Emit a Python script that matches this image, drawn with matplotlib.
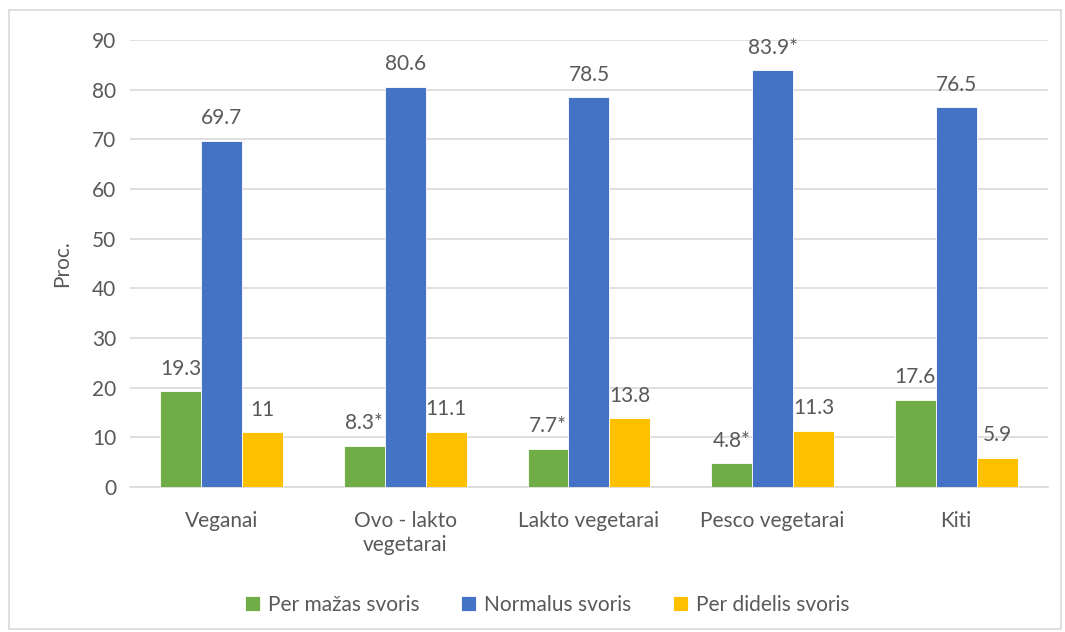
import matplotlib.pyplot as plt
from matplotlib.patches import Rectangle
import numpy as np

categories = ['Veganai', 'Ovo - lakto\nvegetarai', 'Lakto vegetarai', 'Pesco vegetarai', 'Kiti']
series_names = ['Per mažas svoris', 'Normalus svoris', 'Per didelis svoris']
under = [19.3, 8.3, 7.7, 4.8, 17.6]
normal = [69.7, 80.6, 78.5, 83.9, 76.5]
over = [11, 11.1, 13.8, 11.3, 5.9]
under_labels = ['19.3', '8.3*', '7.7*', '4.8*', '17.6']
normal_labels = ['69.7', '80.6', '78.5', '83.9*', '76.5']
over_labels = ['11', '11.1', '13.8', '11.3', '5.9']
yticks = [0, 10, 20, 30, 40, 50, 60, 70, 80, 90]

colors = ['#70AD47', '#4472C4', '#FFC000']
text_color = '#595959'
fs = 15

plt.rcParams['font.family'] = ['Lato', 'DejaVu Sans']

fig = plt.figure(figsize=(10.65, 6.32), dpi=100)
ax = fig.add_axes([0.122, 0.2294, 0.862, 0.7073])

x = np.arange(len(categories))
w = 0.223
data = [under, normal, over]
labels = [under_labels, normal_labels, over_labels]
for i, (vals, labs) in enumerate(zip(data, labels)):
    pos = x + (i - 1) * w
    ax.bar(pos, vals, width=w, color=colors[i], edgecolor='white', linewidth=0.6,
           label=series_names[i], zorder=3)
    for px, v, t in zip(pos, vals, labs):
        ax.annotate(t, (px, v), xytext=(0, 9), textcoords='offset points',
                    ha='center', va='bottom', fontsize=fs, color=text_color)

ax.set_xlim(-0.5, len(categories) - 0.5)
ax.set_ylim(0, 90)
ax.set_yticks(yticks)
ax.grid(axis='y', color='#D9D9D9', linewidth=1.2, zorder=0)
for s in ['top', 'right', 'left']:
    ax.spines[s].set_visible(False)
ax.spines['bottom'].set_color('#D9D9D9')
ax.spines['bottom'].set_linewidth(1.2)
ax.tick_params(axis='both', length=0, labelsize=fs, colors=text_color, pad=10)
ax.set_xticks(x)
ax.set_xticklabels(categories, linespacing=1.25)
ax.tick_params(axis='x', pad=17)
ax.set_ylabel('Proc.', fontsize=fs, color=text_color, labelpad=14)

ax.legend(loc='upper center', bbox_to_anchor=(0.514, 0.072), bbox_transform=fig.transFigure,
          ncol=3, frameon=False,
          fontsize=fs, labelcolor=text_color, handlelength=0.7, handleheight=0.7,
          columnspacing=2.0, handletextpad=0.4, borderaxespad=0)

fig.patches.append(Rectangle((0.008, 0.004), 0.988, 0.98, transform=fig.transFigure,
                             fill=False, edgecolor='#D9D9D9', linewidth=1.2))

fig.savefig('out.png', dpi=100)
